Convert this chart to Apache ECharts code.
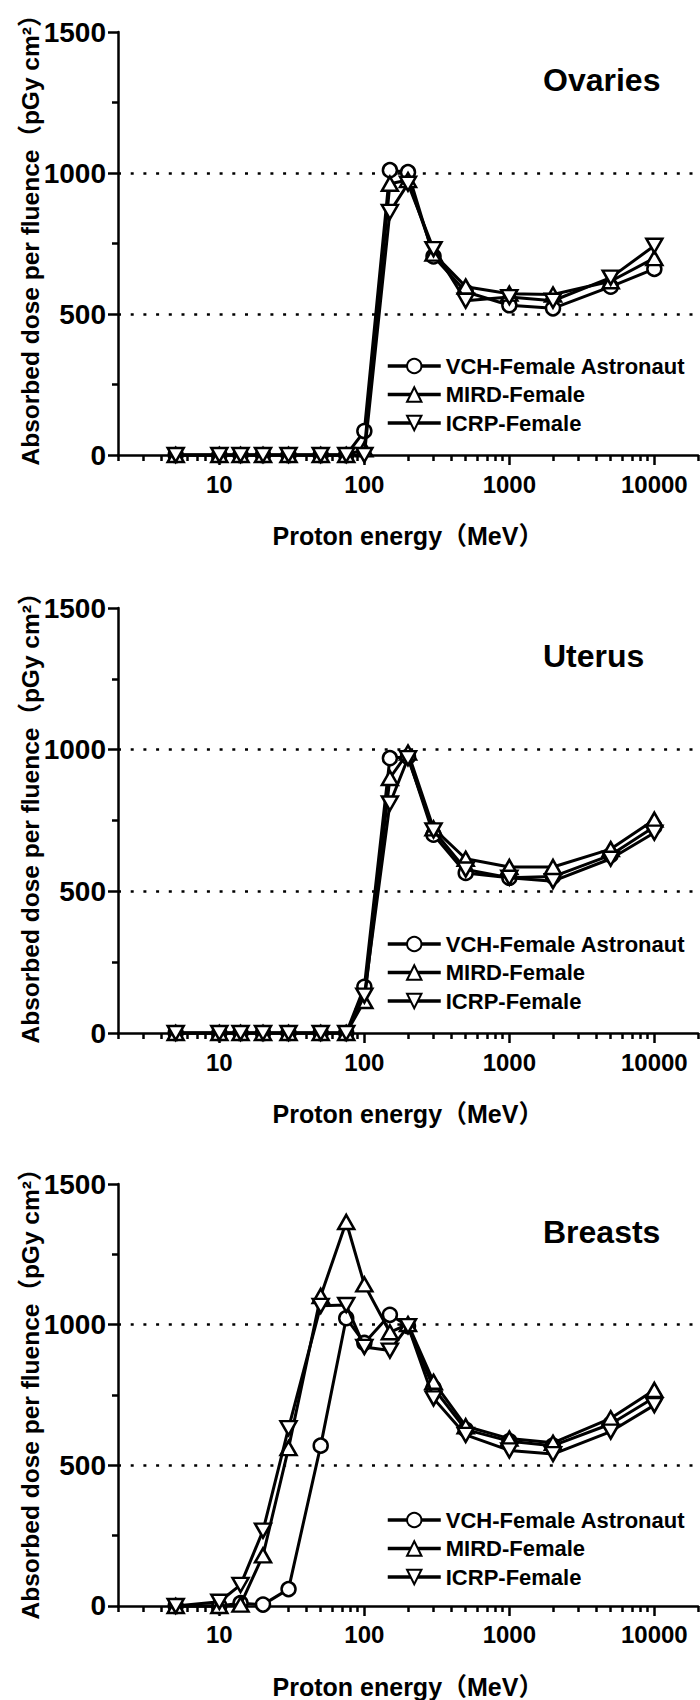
<!DOCTYPE html>
<html><head><meta charset="utf-8">
<script src="https://cdn.jsdelivr.net/npm/echarts@6/dist/echarts.min.js"></script>
<style>html,body{margin:0;padding:0;background:#fff}#c{width:700px;height:1700px}</style>
</head><body><div id="c"></div>
<script>
// ---------- data ----------
const ENERGY = [5, 10, 14, 20, 30, 50, 75, 100, 150, 200, 300, 500, 1000, 2000, 5000, 10000];
const SERIES_NAMES = ['VCH-Female Astronaut', 'MIRD-Female', 'ICRP-Female'];
const ORGANS = ['Ovaries', 'Uterus', 'Breasts'];

const OVARIES_VCH  = [0, 0, 0, 0, 0, 0, 0, 85, 1010, 1003, 704, 579, 531, 520, 597, 660];
const OVARIES_MIRD = [0, 0, 0, 0, 0, 0, 0, 20, 962, 975, 714, 597, 572, 569, 616, 698];
const OVARIES_ICRP = [0, 0, 0, 0, 0, 0, 0, 0, 862, 962, 730, 547, 560, 547, 629, 742];

const UTERUS_VCH  = [0, 0, 0, 0, 0, 0, 0, 163, 970, 975, 700, 565, 548, 552, 628, 728];
const UTERUS_MIRD = [0, 0, 0, 0, 0, 0, 0, 113, 900, 990, 722, 615, 586, 586, 649, 753];
const UTERUS_ICRP = [0, 0, 0, 0, 0, 0, 0, 132, 810, 970, 715, 577, 548, 536, 615, 707];

const BREASTS_VCH  = [0, 0, 10, 5, 60, 570, 1023, 935, 1035, 995, 775, 627, 586, 570, 647, 741];
const BREASTS_MIRD = [0, 0, 5, 180, 561, 1102, 1365, 1143, 973, 1002, 797, 639, 595, 580, 667, 768];
const BREASTS_ICRP = [0, 15, 75, 268, 632, 1067, 1070, 921, 908, 995, 738, 608, 553, 540, 620, 714];

const X_MIN = 2, X_MAX = 20000;
const X_MAJOR_TICKS = [10, 100, 1000, 10000];
const X_MINOR_TICKS = [2, 3, 4, 5, 6, 7, 8, 9, 20, 30, 40, 50, 60, 70, 80, 90,
  200, 300, 400, 500, 600, 700, 800, 900, 2000, 3000, 4000, 5000, 6000, 7000, 8000, 9000, 20000];
const Y_MIN = 0, Y_MAX = 1500, Y_STEP = 500;

const X_TITLE = 'Proton energy（MeV）';
const Y_TITLE = 'Absorbed dose per fluence（pGy cm²）';

const ORGAN_DATA = [
  [OVARIES_VCH, OVARIES_MIRD, OVARIES_ICRP],
  [UTERUS_VCH, UTERUS_MIRD, UTERUS_ICRP],
  [BREASTS_VCH, BREASTS_MIRD, BREASTS_ICRP]
];

// ---------- layout / style ----------
const FONT = "'Liberation Sans', Arial, 'Noto Sans CJK SC', sans-serif";
const GRID_TOPS = [32, 608, 1184];
const GRID_HEIGHTS = [423, 425, 425];
const GRID_LEFT = 118, GRID_WIDTH = 580;
const SYMBOLS = ['circle', 'triangle', 'triangle'];
const ROTATIONS = [0, 0, 180];
const SIZES = [14, [16, 14], [16, 14]];

const grid = [], xAxis = [], yAxis = [], series = [], legend = [], graphic = [];
const lineCol = '#000';

GRID_TOPS.forEach((top, i) => {
  const h = GRID_HEIGHTS[i];
  grid.push({ left: GRID_LEFT, width: GRID_WIDTH, top: top, height: h });
  xAxis.push({
    gridIndex: i, type: 'log', logBase: 10, min: X_MIN, max: X_MAX, position: 'bottom',
    axisLine: { show: true, onZero: false, lineStyle: { color: lineCol, width: 2.5 } },
    axisTick: { show: true, inside: false, length: 10, customValues: X_MAJOR_TICKS, lineStyle: { color: lineCol, width: 2.5 } },
    minorTick: { show: false },
    axisLabel: { show: true, customValues: X_MAJOR_TICKS, formatter: v => String(v), fontSize: 24, fontWeight: 'bold', color: '#000', fontFamily: FONT, margin: 17 },
    splitLine: { show: false },
    name: X_TITLE, nameLocation: 'middle', nameGap: 68,
    nameTextStyle: { fontSize: 25, fontWeight: 'bold', color: '#000', fontFamily: FONT }
  });
  xAxis.push({
    gridIndex: i, type: 'log', logBase: 10, min: X_MIN, max: X_MAX, position: 'bottom',
    axisLine: { show: false, onZero: false },
    axisTick: { show: true, inside: false, length: 6, customValues: X_MINOR_TICKS, lineStyle: { color: lineCol, width: 2.5 } },
    axisLabel: { show: false },
    splitLine: { show: false }
  });
  yAxis.push({
    gridIndex: i, type: 'value', min: Y_MIN, max: Y_MAX, interval: Y_STEP,
    axisLine: { show: true, onZero: false, lineStyle: { color: lineCol, width: 2.5 } },
    axisTick: { show: true, inside: false, length: 10, lineStyle: { color: lineCol, width: 2.5 } },
    minorTick: { show: true, splitNumber: 2, length: 6, lineStyle: { color: lineCol, width: 2.5 } },
    axisLabel: { fontSize: 28, fontWeight: 'bold', color: '#000', fontFamily: FONT, margin: 12, formatter: v => String(v) },
    splitLine: { show: true, showMinLine: false, showMaxLine: false, lineStyle: { color: lineCol, width: 2.5, type: [3, 9.7] } },
    minorSplitLine: { show: false }
  });
  ORGAN_DATA[i].forEach((vals, k) => {
    series.push({
      name: SERIES_NAMES[k], type: 'line', xAxisIndex: 2 * i, yAxisIndex: i,
      data: ENERGY.map((e, j) => [e, vals[j]]),
      symbol: SYMBOLS[k], symbolRotate: ROTATIONS[k], symbolSize: SIZES[k], showAllSymbol: true,
      itemStyle: { color: '#fff', borderColor: '#000', borderWidth: 2.5 },
      lineStyle: { color: '#000', width: 3 },
      clip: false, z: 2 + k, animation: false,
      emphasis: { disabled: true }
    });
  });
  legend.push({
    data: SERIES_NAMES, orient: 'vertical', left: 381, top: top + h - 105,
    itemWidth: 53, itemHeight: 18, itemGap: 6.5, selectedMode: false,
    textStyle: { fontSize: 22, fontWeight: 'bold', color: '#000', fontFamily: FONT, lineHeight: 22 },
    lineStyle: { width: 3.5 }
  });
  graphic.push({
    type: 'text', x: 543, y: top + 48,
    style: { text: ORGANS[i], font: 'bold 32px ' + FONT, fill: '#000', align: 'left', verticalAlign: 'middle', textAlign: 'left', textVerticalAlign: 'middle' }
  });
  graphic.push({
    type: 'text', x: 30, y: top + h - 221, rotation: Math.PI / 2,
    style: { text: Y_TITLE, font: 'bold 24.5px ' + FONT, fill: '#000', align: 'center', verticalAlign: 'middle', textAlign: 'center', textVerticalAlign: 'middle' }
  });
});

const chart = echarts.init(document.getElementById('c'), null, { renderer: 'svg' });
chart.setOption({
  backgroundColor: '#fff', animation: false,
  grid, xAxis, yAxis, series, legend, graphic
});
</script>
</body></html>
